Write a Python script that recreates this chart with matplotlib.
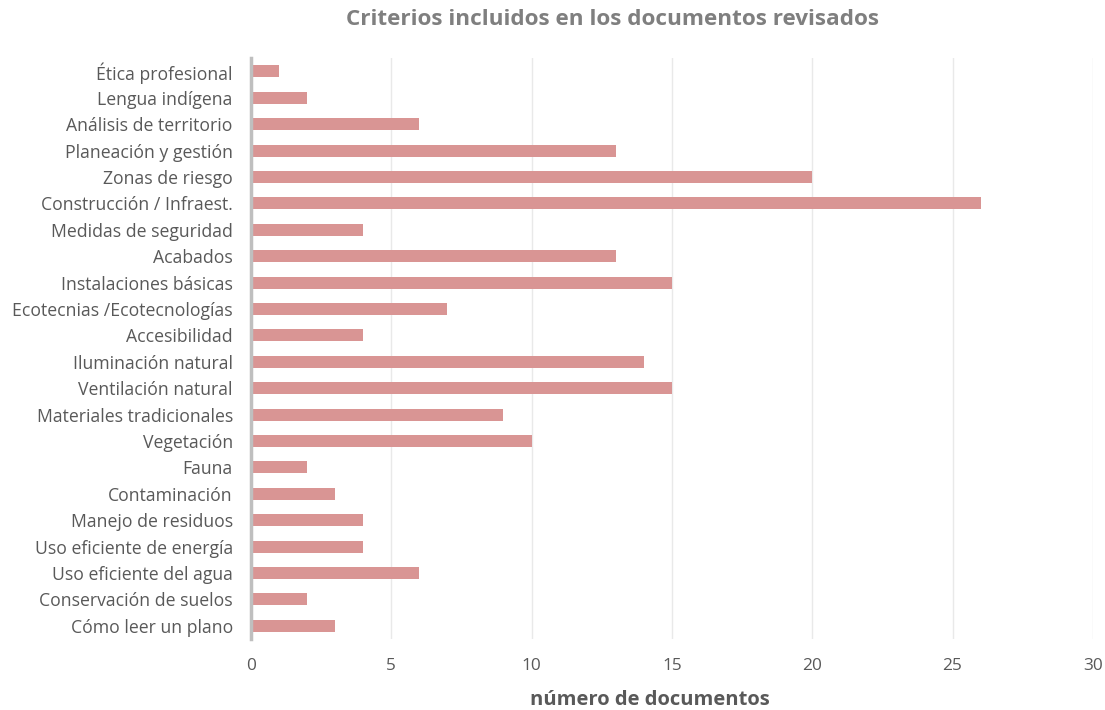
import matplotlib
matplotlib.use('Agg')
import matplotlib.pyplot as plt

plt.rcParams['font.family'] = ['Open Sans', 'DejaVu Sans']

# criterios, de arriba hacia abajo
criterios = ['Ética profesional', 'Lengua indígena', 'Análisis de territorio',
             'Planeación y gestión', 'Zonas de riesgo', 'Construcción / Infraest.',
             'Medidas de seguridad', 'Acabados', 'Instalaciones básicas',
             'Ecotecnias /Ecotecnologías', 'Accesibilidad', 'Iluminación natural',
             'Ventilación natural', 'Materiales tradicionales', 'Vegetación', 'Fauna',
             'Contaminación', 'Manejo de residuos', 'Uso eficiente de energía',
             'Uso eficiente del agua', 'Conservación de suelos', 'Cómo leer un plano']
num_docs = [1, 2, 6, 13, 20, 26, 4, 13, 15, 7, 4, 14, 15, 9, 10, 2, 3, 4, 4, 6, 2, 3]
xticks = [0, 5, 10, 15, 20, 25, 30]

fig = plt.figure(figsize=(11.05, 7.1), dpi=100)
ax = fig.add_axes([0.227, 0.1, 0.762, 0.818])

pos = list(range(len(criterios)))
ax.barh(pos, num_docs, height=0.45, color='#d99594', zorder=3)
ax.set_yticks(pos)
ax.set_yticklabels(criterios, fontsize=12.7, color='#595959')
ax.set_ylim(len(criterios) - 0.5, -0.5)

ax.set_xlim(0, 30)
ax.set_xticks(xticks)
ax.set_xticklabels([str(t) for t in xticks], fontsize=12.4, color='#595959')
ax.grid(axis='x', color='#e9e9e9', linewidth=1, zorder=0)
ax.tick_params(length=0)
ax.tick_params(axis='x', pad=14)
ax.tick_params(axis='y', pad=13)

for s in ['top', 'right', 'bottom']:
    ax.spines[s].set_visible(False)
ax.spines['left'].set_color('#bfbfbf')
ax.spines['left'].set_linewidth(2.5)
ax.spines['left'].set_zorder(4)

ax.set_xlabel('número de documentos', fontsize=14.5, fontweight='bold',
              color='#595959')
ax.xaxis.set_label_coords(0.474, -0.088)
fig.suptitle('Criterios incluidos en los documentos revisados', x=0.554, y=0.988,
             fontsize=16.2, fontweight='bold', color='#7f7f7f')

fig.savefig('out.png', dpi=100)
